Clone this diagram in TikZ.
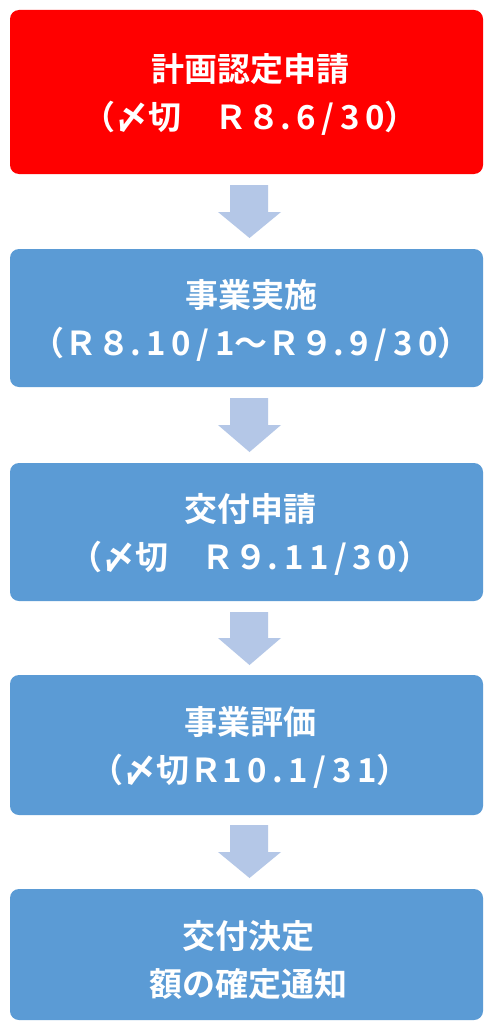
\documentclass[tikz,border=0pt]{standalone}
\usepackage{fontspec}
\newfontfamily\jp{Noto Sans CJK JP Bold}
\newcommand{\hw}[1]{{\addfontfeature{LetterSpace=17}#1}}
\definecolor{redbox}{HTML}{FF0000}
\definecolor{bluebox}{HTML}{5B9BD5}
\definecolor{arrowc}{HTML}{B4C7E7}
\tikzset{
  stepbox/.style={rounded corners=9pt, inner sep=0pt},
  lbl/.style={text=white, font=\jp\fontsize{33}{48}\selectfont, align=center, inner sep=0pt},
  downarrow/.style={fill=arrowc, draw=none}
}
\begin{document}
\begin{tikzpicture}[x=1pt,y=-1pt]
\useasboundingbox (0,0) rectangle (484,1022);
\fill[white] (0,0) rectangle (484,1022);
% boxes
\fill[redbox, stepbox] (10,10) rectangle (483,174);
\fill[bluebox, stepbox] (10,249) rectangle (483,387);
\fill[bluebox, stepbox] (10,463) rectangle (483,601);
\fill[bluebox, stepbox] (10,675) rectangle (483,815);
\fill[bluebox, stepbox] (10,889) rectangle (483,1020);
% labels
\node[lbl] (b1) at (250,94) {計画認定申請\\（〆切　Ｒ８\hw{.6/30}）};
\node[lbl] (b2) at (251,320) {事業実施\\（Ｒ８\hw{.10/1}～Ｒ９\hw{.9/30}）};
\node[lbl] (b3) at (250,534) {交付申請\\（〆切　Ｒ９\hw{.11/30}）};
\node[lbl] (b4) at (250,747) {事業評価\\（〆切Ｒ\hw{10.1/31}）};
\node[lbl] (b5) at (248,960) {交付決定\\額の確定通知};
% arrows
\foreach \t/\h/\e in {185/212/238, 398/425/452, 612/638/665, 825/852/878}{
  \fill[downarrow] (230,\t) -- (268,\t) -- (268,\h) -- (281,\h) -- (249.5,\e) -- (218,\h) -- (230,\h) -- cycle;
}
\end{tikzpicture}
\end{document}
